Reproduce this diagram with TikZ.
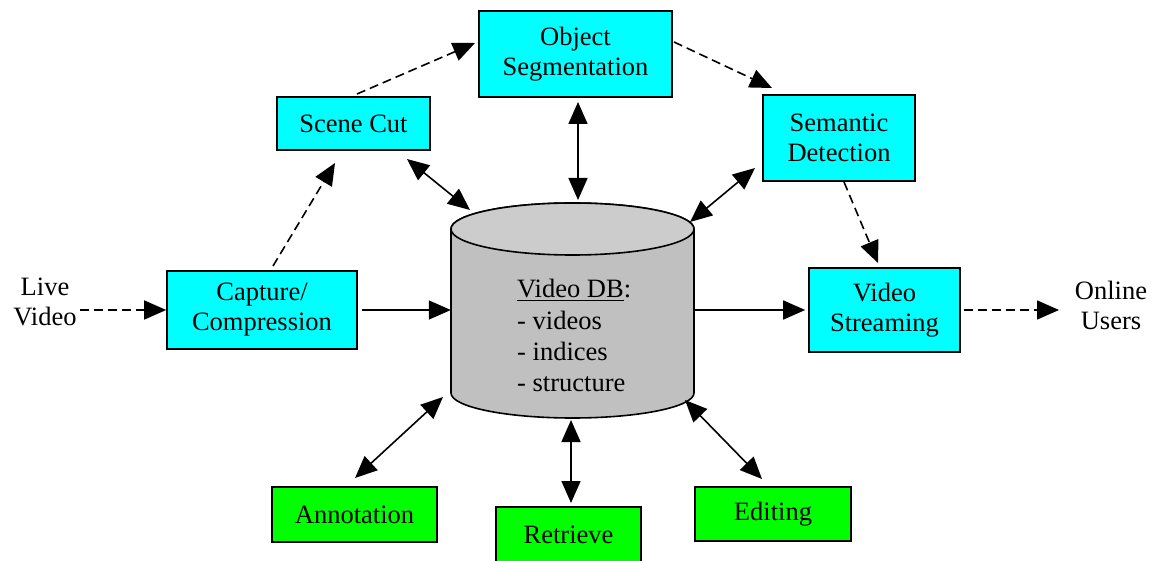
\documentclass[tikz,border=0pt]{standalone}
\usepackage{fontspec}
\setmainfont{Liberation Serif}
\usetikzlibrary{arrows.meta}
\definecolor{boxcyan}{RGB}{0,255,255}
\definecolor{boxgreen}{RGB}{0,255,0}
\definecolor{dbside}{RGB}{192,192,192}
\definecolor{dbtop}{RGB}{204,204,204}
\begin{document}
\begin{tikzpicture}[x=1pt,y=-1pt,
  every node/.style={font=\fontsize{26.5}{30}\selectfont},
  proc/.style={draw=black, line width=1.6pt, fill=boxcyan, align=center, inner sep=0pt},
  tool/.style={proc, fill=boxgreen},
  tip/.tip={Triangle[length=22pt,width=19pt]},
  arr/.style={line width=1.6pt, -tip},
  biarr/.style={line width=1.6pt, tip-tip},
  darr/.style={arr, dash pattern=on 9pt off 5pt}]
\useasboundingbox (0,0) rectangle (1151,561);
\fill[white] (0,0) rectangle (1151,561);

% database cylinder
\path[draw, line width=1.6pt, fill=dbside]
  (451,229) -- (451,393)
  arc[start angle=180, end angle=0, x radius=121.5, y radius=25]
  -- (694,229)
  arc[start angle=0, end angle=-180, x radius=121.5, y radius=26] -- cycle;
\draw[line width=1.6pt, fill=dbtop] (572.5,229) ellipse [x radius=121.5, y radius=26];
\node[minimum width=243pt, minimum height=215pt, inner sep=0pt] (db) at (572.5,310.5) {};
\node[anchor=base west, inner sep=0pt] (dbt1) at (517,298) {\underline{Video DB}:};
\node[anchor=base west, inner sep=0pt] (dbt2) at (517,330) {- videos};
\node[anchor=base west, inner sep=0pt] (dbt3) at (517,360) {- indices};
\node[anchor=base west, inner sep=0pt] (dbt4) at (517,391) {- structure};

% processing boxes
\node[proc, minimum width=190pt, minimum height=78pt] (cap) at (262,310) {Capture/\\Compression};
\node[proc, minimum width=153pt, minimum height=53pt] (scene) at (353.5,123.5) {Scene Cut};
\node[proc, minimum width=193pt, minimum height=86pt] (obj) at (575.5,54) {Object\\Segmentation};
\node[proc, minimum width=152pt, minimum height=86pt] (sem) at (839,138) {Semantic\\Detection};
\node[proc, minimum width=151pt, minimum height=84pt] (vs) at (884.5,310) {Video\\Streaming};

% tool boxes
\node[tool, minimum width=165pt, minimum height=55pt] (annot) at (354.5,514.5) {Annotation};
\node[tool, minimum width=145pt, minimum height=56pt] (retr) at (568.5,535) {Retrieve};
\node[tool, minimum width=156pt, minimum height=54pt] (edit) at (773,514) {Editing};

% source and sink labels
\node[align=center, inner sep=0pt] (live) at (45,302) {Live\\Video};
\node[align=center, inner sep=0pt] (users) at (1111,305) {Online\\Users};

% connector end points
\coordinate (liveout) at (80,310);
\coordinate (usersin) at (1059,310);
\coordinate (capN) at (273,266);
\coordinate (sceneS) at (335,163);
\coordinate (sceneN) at (357,94);
\coordinate (objW) at (475,43);
\coordinate (objE) at (674,42);
\coordinate (semN) at (772,88);
\coordinate (semS) at (844,182);
\coordinate (vsN) at (878,263);
\coordinate (sceneSE) at (407,159);
\coordinate (dbNW) at (470,210);
\coordinate (objS) at (578,102);
\coordinate (dbN) at (578,200);
\coordinate (semSW) at (755,168);
\coordinate (dbNE) at (690,222);
\coordinate (dbSW) at (443,397);
\coordinate (annotN) at (355,478);
\coordinate (dbS) at (571,420);
\coordinate (retrN) at (571,503);
\coordinate (dbSE) at (685,400);
\coordinate (editN) at (762,479);

% data flow
\draw[darr] (liveout) -- (cap.west);
\draw[arr] ([xshift=4pt]cap.east) -- (cap.east -| db.west);
\draw[arr] (db.east |- vs.west) -- ([xshift=-3pt]vs.west);
\draw[darr] ([xshift=3pt]vs.east) -- (usersin);
\draw[darr] (capN) -- (sceneS);
\draw[darr] (sceneN) -- (objW);
\draw[darr] (objE) -- (semN);
\draw[darr] (semS) -- (vsN);

% database access
\draw[biarr] (sceneSE) -- (dbNW);
\draw[biarr] (objS) -- (dbN);
\draw[biarr] (semSW) -- (dbNE);
\draw[biarr] (dbSW) -- (annotN);
\draw[biarr] (dbS) -- (retrN);
\draw[biarr] (dbSE) -- (editN);
\end{tikzpicture}
\end{document}
